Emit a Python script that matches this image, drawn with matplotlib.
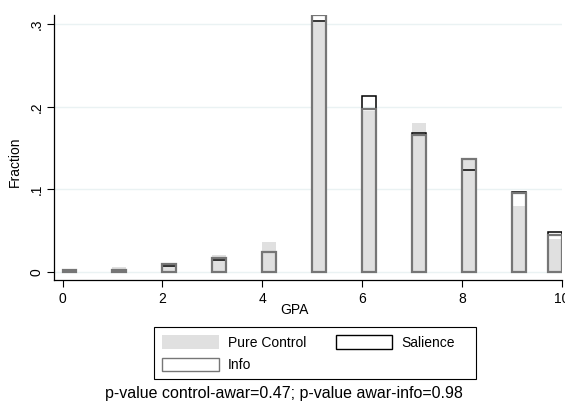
import matplotlib
matplotlib.use("Agg")
import matplotlib.pyplot as plt
from matplotlib.patches import Patch, Rectangle

plt.rcParams['font.family'] = ['Liberation Sans', 'DejaVu Sans']

# bin left edges (GPA) and bar width
gpa_bins = [0, 1, 2, 3, 4, 5, 6, 7, 8, 9, 9.72]
bin_width = 0.28

pure_control = [0.002, 0.0057, 0.011, 0.021, 0.036, 0.302, 0.195, 0.180, 0.137, 0.080, 0.040]
salience     = [0.002, 0.003, 0.0076, 0.015, 0.024, 0.3035, 0.213, 0.168, 0.123, 0.097, 0.0487]
info         = [0.002, 0.003, 0.010, 0.0166, 0.0246, 0.311, 0.197, 0.166, 0.137, 0.096, 0.045]

x_ticks = [0, 2, 4, 6, 8, 10]
y_ticks = [0, 0.1, 0.2, 0.3]
y_ticklabels = ["0", ".1", ".2", ".3"]

note = "p-value control-awar=0.47; p-value awar-info=0.98"

W, H = 565, 409
fig = plt.figure(figsize=(W / 100, H / 100), dpi=100)
ax = fig.add_axes([0.0956, 0.3154, 0.8991, 0.6479])

grid_col = "#eaf2f3"
for yv in y_ticks:
    ax.axhline(yv, color=grid_col, lw=1.0, zorder=0)

ax.bar(gpa_bins, pure_control, width=bin_width, align='edge',
       color="#e0e0e0", edgecolor="none", zorder=1)
ax.bar(gpa_bins, salience, width=bin_width, align='edge',
       facecolor="none", edgecolor="black", lw=1.1, zorder=2)
ax.bar(gpa_bins, info, width=bin_width, align='edge',
       facecolor="none", edgecolor="#767676", lw=1.6, zorder=3)

ax.set_xlim(-0.17, 10.0)
ax.set_ylim(-0.0097, 0.311)
ax.set_xticks(x_ticks)
ax.set_yticks(y_ticks)
ax.set_yticklabels(y_ticklabels, rotation=90, va='center')
ax.tick_params(axis='both', labelsize=10, length=5, width=0.8, direction='out')
ax.tick_params(axis='y', pad=2.5)
for s in ['top', 'right']:
    ax.spines[s].set_visible(False)
for s in ['left', 'bottom']:
    ax.spines[s].set_linewidth(0.9)
ax.set_xlabel("GPA", fontsize=10, labelpad=0)
ax.xaxis.set_label_coords(0.474, -0.085)
ax.set_ylabel("Fraction", fontsize=10)
ax.yaxis.set_label_coords(-0.063, 0.445)

handles = [Patch(facecolor="#e0e0e0", edgecolor="none"),
           Patch(facecolor="white", edgecolor="#767676", lw=1.0),
           Patch(facecolor="white", edgecolor="black", lw=1.0)]
labels = ["Pure Control", "Info", "Salience"]
leg = fig.legend(handles, labels, ncol=2, loc='upper left',
                 bbox_to_anchor=(162 / W, 1 - 335 / H), bbox_transform=fig.transFigure,
                 fontsize=10, frameon=False,
                 handlelength=4.1, handleheight=1.15, handletextpad=0.65,
                 columnspacing=2.1, labelspacing=0.58, borderpad=0,
                 borderaxespad=0)
fig.patches.append(Rectangle((154 / W, 1 - 379 / H), 322 / W, 52 / H,
                             transform=fig.transFigure, fill=False,
                             lw=0.8, ec='black'))

fig.text(0.503, 0.039, note, ha='center', va='center', fontsize=11.5)

fig.savefig("out.png", dpi=100)
